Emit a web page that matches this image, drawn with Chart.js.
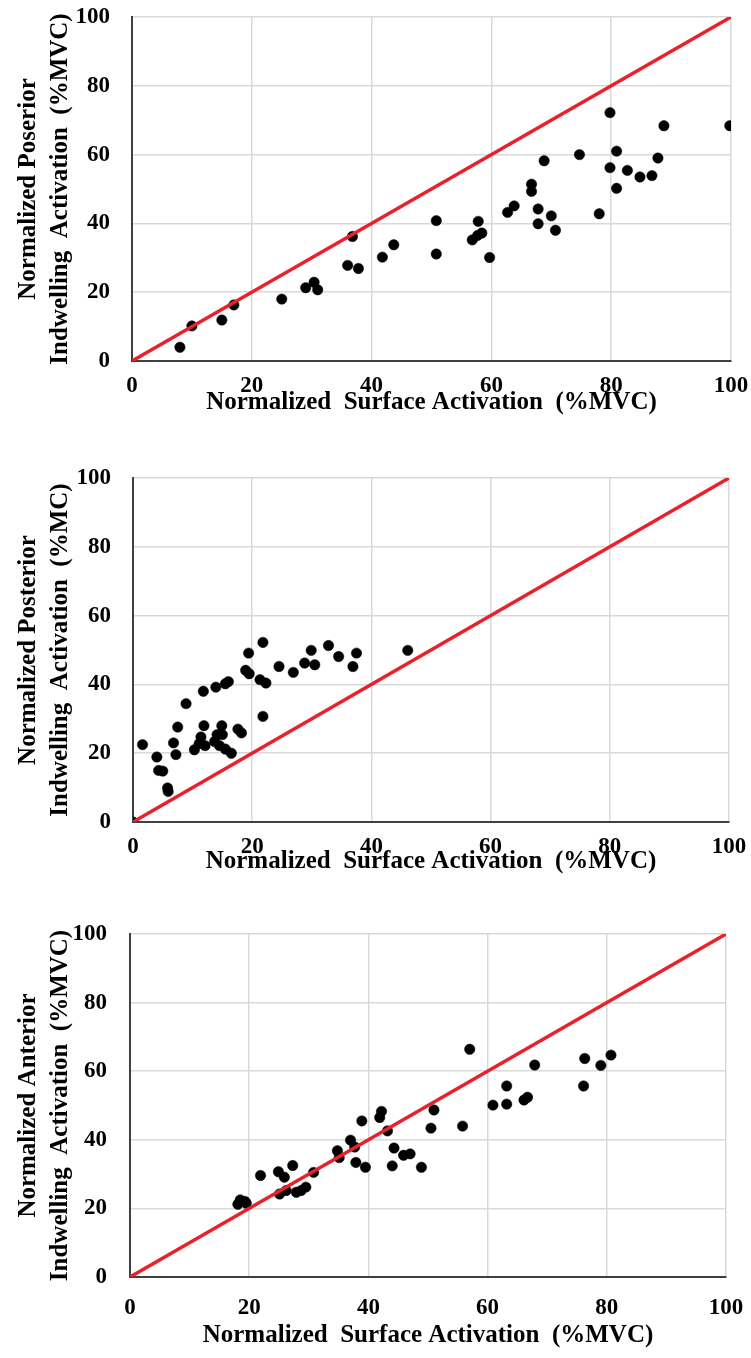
<!DOCTYPE html>
<html>
<head>
<meta charset="utf-8">
<script src="https://cdn.jsdelivr.net/npm/chart.js@4"></script>
<style>
    html, body { margin: 0; padding: 0; background: #fff; }
    body { width: 751px; height: 1358px; position: relative; overflow: hidden; }
    canvas { position: absolute; left: 0; }
</style>
</head>
<body>
<canvas id="chart1" width="751" height="430" style="top:0px"></canvas>
<canvas id="chart2" width="751" height="460" style="top:430px"></canvas>
<canvas id="chart3" width="751" height="468" style="top:890px"></canvas>

<script>
// --- dados ---
const tickValues = [0, 20, 40, 60, 80, 100];
const identityLine = [0, 100];

// painel 1: posterior (%MVC)
const p1Surface = [8, 10, 15, 17, 25, 29, 30.4, 31, 36, 36.8, 37.8, 41.8, 43.7, 50.8, 50.8,
    56.8, 57.7, 57.8, 58.4, 59.7, 62.7, 63.8, 66.7, 66.7, 67.8, 67.8, 68.8, 70, 70.7, 74.7,
    78, 79.8, 79.8, 80.9, 80.9, 82.7, 84.8, 86.8, 87.8, 88.8, 99.8];
const p1Indwelling = [4, 10.2, 11.9, 16.3, 18, 21.3, 22.9, 20.7, 27.8, 36.2, 26.9, 30.2, 33.8, 40.8, 31.1,
    35.2, 36.5, 40.6, 37.2, 30.1, 43.2, 45.1, 51.4, 49.3, 44.2, 39.9, 58.2, 42.2, 38, 60,
    42.8, 72.2, 56.2, 61, 50.2, 55.4, 53.5, 53.9, 59, 68.4, 68.4];

// painel 2: posterior (%MC)
const p2Surface = [0, 1.6, 4.0, 4.3, 5.0, 5.8, 5.9, 6.8, 7.2, 7.5, 8.9, 10.3, 11.1, 11.4, 12.1,
    11.9, 11.8, 13.9, 15.5, 16.0, 13.7, 14.1, 14.5, 14.9, 15.5, 16.5, 15.0, 17.6, 18.2, 18.9,
    19.5, 19.4, 21.3, 22.3, 21.8, 21.8, 24.5, 26.9, 28.8, 29.9, 30.5, 32.8, 34.5, 36.9, 37.5, 46.1];
const p2Indwelling = [0, 22.5, 18.9, 15.0, 14.8, 9.9, 8.9, 23, 19.6, 27.6, 34.4, 21, 22.8, 24.7, 22.2,
    28, 38, 39.2, 40.2, 40.8, 23.4, 25.4, 22.2, 28, 21.2, 20, 25.4, 27, 25.9, 44.1,
    43.1, 49.1, 41.4, 40.4, 52.2, 30.7, 45.2, 43.5, 46.2, 49.9, 45.7, 51.3, 48.1, 45.2, 49.1, 49.9];

// painel 3: anterior (%MVC)
const p3Surface = [18.1, 18.5, 19.3, 19.5, 21.9, 24.9, 25.9, 25.1, 26.2, 27.3, 27.9, 28.7, 29.5, 30.8, 34.8,
    35.1, 37.0, 37.7, 37.9, 38.9, 39.5, 41.9, 42.2, 43.2, 44.3, 45.9, 47.0, 44.0, 48.9, 51.0,
    50.5, 55.8, 57.0, 60.9, 63.2, 63.2, 66.1, 66.7, 67.9, 76.1, 76.3, 79.0, 80.7];
const p3Indwelling = [21.2, 22.5, 22.0, 21.5, 29.6, 30.7, 29.1, 24.2, 25.2, 32.5, 24.7, 25.2, 26.2, 30.5, 36.8,
    34.8, 39.9, 37.9, 33.4, 45.5, 32.0, 46.5, 48.3, 42.6, 37.6, 35.5, 35.9, 32.4, 32.0, 48.7,
    43.4, 44.0, 66.4, 50.1, 55.7, 50.4, 51.6, 52.4, 61.8, 55.7, 63.7, 61.7, 64.7];

const xTitle = 'Normalized  Surface Activation  (%MVC)';
const yTitle1 = ['Normalized Poserior', 'Indwelling  Activation  (%MVC)'];
const yTitle2 = ['Normalized Posterior', 'Indwelling  Activation  (%MC)'];
const yTitle3 = ['Normalized Anterior', 'Indwelling  Activation  (%MVC)'];

const serif = "'Liberation Serif', 'Times New Roman', serif";

// junta x e y em pontos
function toPoints(xs, ys) {
    return xs.map((x, i) => ({ x: x, y: ys[i] }));
}

// cria um painel de dispersão com a linha de identidade
function makePanel(id, xs, ys, yTitle, box) {
    const ctx = document.getElementById(id).getContext('2d');

    return new Chart(ctx, {
        type: 'scatter',
        data: {
            datasets: [{
                label: 'identidade',
                data: toPoints(identityLine, identityLine),
                showLine: true,
                borderColor: '#e8222c',
                borderWidth: 3.5,
                pointRadius: 0,
                order: 0
            }, {
                label: 'dados',
                data: toPoints(xs, ys),
                backgroundColor: '#000000',
                borderColor: '#000000',
                borderWidth: 0.5,
                pointRadius: 5.2,
                order: 1
            }]
        },
        options: {
            responsive: false,
            animation: false,
            layout: {
                padding: { top: box.top, right: box.right, bottom: 0, left: 0 }
            },
            plugins: {
                legend: { display: false },
                tooltip: { enabled: false }
            },
            scales: {
                x: {
                    type: 'linear',
                    min: 0,
                    max: 100,
                    afterBuildTicks: (axis) => { axis.ticks = tickValues.map(v => ({ value: v })); },
                    afterFit: (axis) => {
                        // tamanho fixo para a área do gráfico bater com a figura
                        axis.height = box.xHeight;
                        axis.paddingLeft = 0;
                        axis.paddingRight = 0;
                    },
                    grid: { color: '#d9d9d9', lineWidth: 1.5, drawTicks: false },
                    border: { color: '#404040', width: 2 },
                    ticks: {
                        padding: box.xTickPad,
                        color: '#000',
                        font: { family: serif, size: 23, weight: 'bold' }
                    },
                    title: {
                        display: true,
                        text: xTitle,
                        color: '#000',
                        padding: { top: 0, bottom: box.xTitlePad },
                        font: { family: serif, size: 25, weight: 'bold', lineHeight: 1.2 }
                    }
                },
                y: {
                    type: 'linear',
                    min: 0,
                    max: 100,
                    afterBuildTicks: (axis) => { axis.ticks = tickValues.map(v => ({ value: v })); },
                    afterFit: (axis) => {
                        axis.width = box.left;
                        axis.paddingTop = 0;
                        axis.paddingBottom = 0;
                    },
                    grid: { color: '#d9d9d9', lineWidth: 1.5, drawTicks: false },
                    border: { color: '#404040', width: 2 },
                    ticks: {
                        padding: box.yTickPad,
                        color: '#000',
                        font: { family: serif, size: 23, weight: 'bold' }
                    },
                    title: {
                        display: true,
                        text: yTitle,
                        color: '#000',
                        padding: { top: 12, bottom: 0 },
                        font: { family: serif, size: 25, weight: 'bold', lineHeight: 1.3 }
                    }
                }
            }
        }
    });
}

makePanel('chart1', p1Surface, p1Indwelling, yTitle1,
    { top: 17, right: 20, left: 132, xHeight: 69, xTickPad: 11, xTitlePad: 12, yTickPad: 22 });
makePanel('chart2', p2Surface, p2Indwelling, yTitle2,
    { top: 48, right: 22, left: 133, xHeight: 68, xTickPad: 11, xTitlePad: 13, yTickPad: 22 });
makePanel('chart3', p3Surface, p3Indwelling, yTitle3,
    { top: 44, right: 25, left: 130, xHeight: 81, xTickPad: 17, xTitlePad: 7, yTickPad: 23 });
</script>
</body>
</html>
